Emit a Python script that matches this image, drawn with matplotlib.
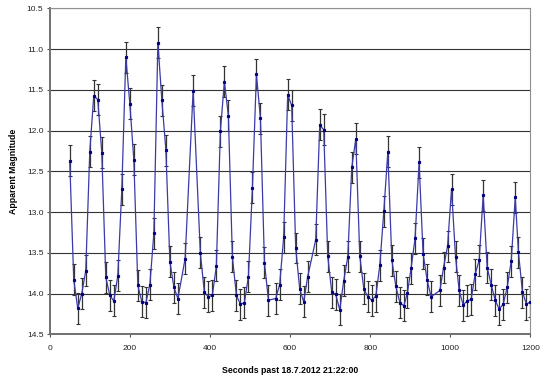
import matplotlib
matplotlib.use("Agg")
import matplotlib.pyplot as plt
import numpy as np

plt.rcParams['font.family'] = ['Liberation Sans', 'DejaVu Sans']

# light curve data: time (s) and apparent magnitude
seconds = [50, 60, 70, 80, 90, 100, 110, 120, 130, 140, 150, 160, 170, 180, 190,
           200, 210, 220, 230, 240, 250, 260, 270, 280, 290, 300, 310, 320, 338,
           358, 376, 386, 396, 406, 416, 426, 436, 446, 456, 466, 476, 486, 496,
           506, 516, 526, 536, 546, 564, 574, 584, 594, 604, 614, 624, 634, 644,
           664, 674, 684, 694, 704, 714, 724, 734, 744, 754, 764, 774, 784, 794,
           804, 814, 824, 834, 844, 854, 864, 874, 884, 893, 902, 912, 922, 932,
           942, 952, 974, 983, 993, 1003, 1013, 1022, 1032, 1042, 1052, 1062,
           1072, 1082, 1092, 1102, 1112, 1122, 1132, 1142, 1152, 1162, 1170,
           1180, 1190, 1200]
magnitude = [12.37, 13.83, 14.18, 14.00, 13.72, 12.26, 11.57, 11.62, 12.27, 13.80,
             14.02, 14.09, 13.78, 12.72, 11.10, 11.67, 12.36, 13.90, 14.10, 14.11,
             13.89, 13.26, 10.92, 11.63, 12.24, 13.61, 13.92, 14.06, 13.57, 11.51,
             13.50, 13.98, 14.04, 14.02, 13.66, 12.01, 11.40, 11.82, 13.55, 14.02,
             14.13, 14.11, 13.79, 12.70, 11.31, 11.85, 13.62, 14.08, 14.06, 13.89,
             13.31, 11.56, 11.69, 13.44, 13.94, 14.10, 13.79, 13.34, 11.93, 11.99,
             13.54, 13.98, 14.01, 14.20, 13.84, 13.55, 12.45, 12.10, 13.54, 13.94,
             14.04, 14.08, 14.03, 13.65, 12.99, 12.26, 13.59, 13.91, 14.11, 14.15,
             13.99, 13.69, 13.32, 12.39, 13.51, 13.83, 14.04, 13.96, 13.68, 13.42,
             12.72, 13.55, 13.96, 14.14, 14.09, 14.07, 13.76, 13.59, 12.79, 13.68,
             13.89, 14.08, 14.19, 14.13, 13.92, 13.60, 12.82, 13.49, 13.98, 14.13,
             14.10]
mag_error = 0.19

y_ticks = [10.5, 11.0, 11.5, 12.0, 12.5, 13.0, 13.5, 14.0, 14.5]
x_ticks = [0, 200, 400, 600, 800, 1000, 1200]

fig = plt.figure(figsize=(5.42, 3.80), dpi=100)
ax = fig.add_axes([0.0917, 0.120, 0.887, 0.858])

for y in y_ticks:
    ax.axhline(y, color='#333333', lw=0.8, zorder=1)

ax.errorbar(seconds, magnitude, yerr=mag_error, fmt='none', ecolor='#333333',
            elinewidth=0.9, capsize=1.5, capthick=0.8, zorder=2)
ax.plot(seconds, magnitude, color='#3a3aa8', lw=0.9, zorder=3)
ax.plot(seconds, magnitude, 's', color='#000080', ms=1.3, zorder=4)

ax.set_xlim(0, 1200)
ax.set_ylim(14.5, 10.5)
ax.set_xticks(x_ticks)
ax.set_yticks(y_ticks)
ax.set_yticklabels(['%.1f' % v for v in y_ticks])
ax.tick_params(labelsize=6, length=2.5, width=0.8, color='#555555',
               labelcolor='#222222', pad=2)
ax.tick_params(axis='x', pad=5)

for side in ['top', 'right']:
    ax.spines[side].set_color('#909090')
    ax.spines[side].set_linewidth(0.8)
for side in ['left', 'bottom']:
    ax.spines[side].set_color('#707070')
    ax.spines[side].set_linewidth(1.4)

ax.set_xlabel('Seconds past 18.7.2012 21:22:00', fontsize=6.3, fontweight='bold', labelpad=10)
ax.set_ylabel('Apparent Magnitude', fontsize=6.3, fontweight='bold', labelpad=6)

fig.savefig('out.png', dpi=100)
